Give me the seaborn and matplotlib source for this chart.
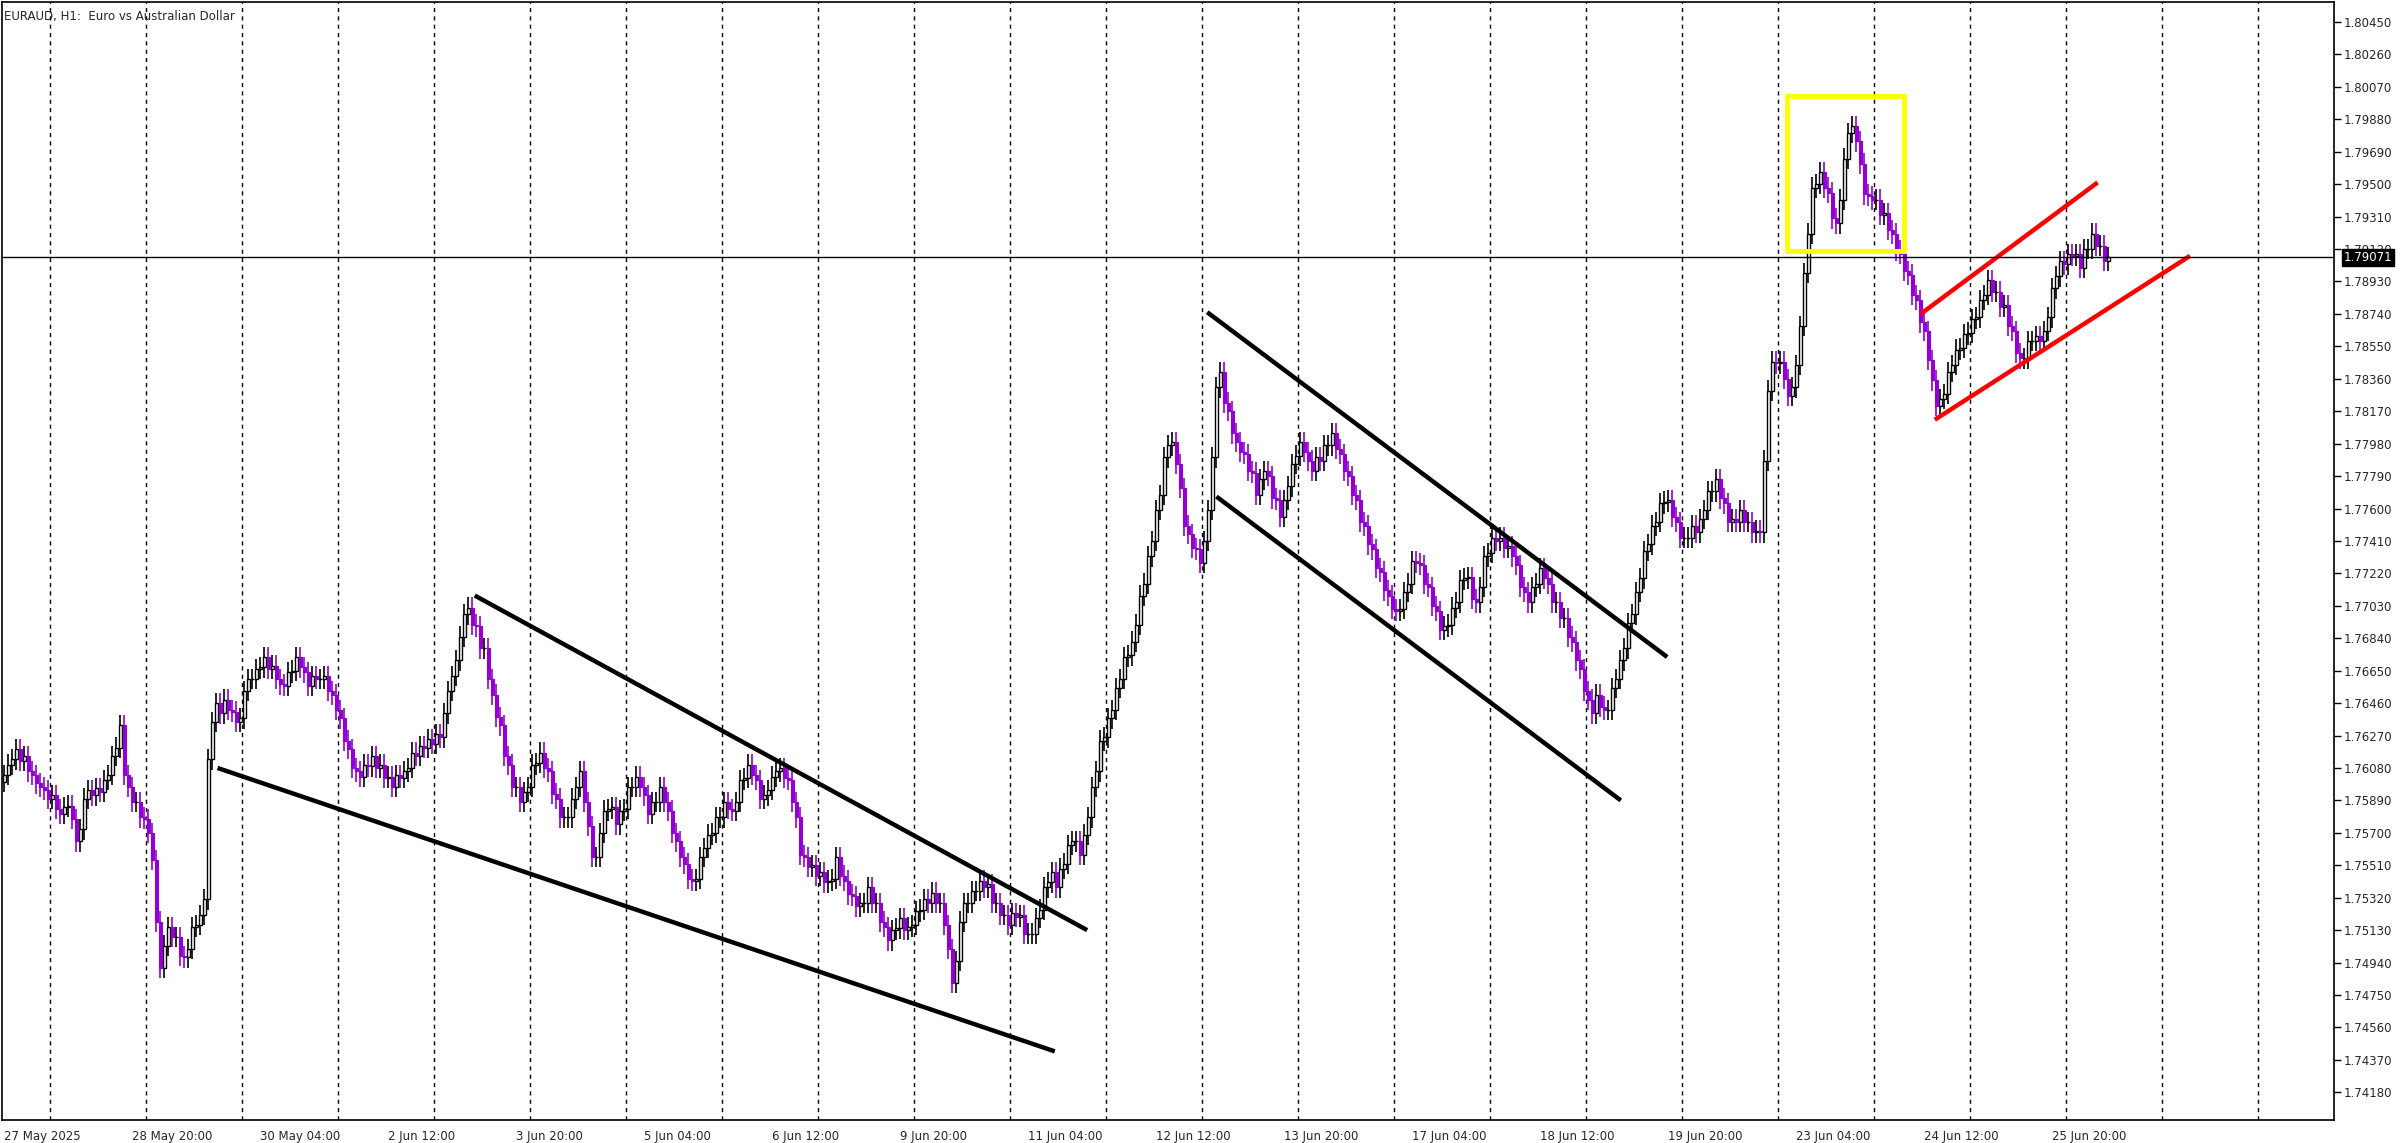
import numpy as np
import pandas as pd
import seaborn as sns
import matplotlib
matplotlib.use("Agg")
import matplotlib.pyplot as plt
from matplotlib.patches import Rectangle

# closes in pips above 1.7000 (price = 1.7 + p/10000), hourly bars from 27 May 2025 12:00
close_pips = [
604,610,613,619,612,615,606,604,599,597,
595,590,592,584,581,585,586,578,565,572,
590,595,592,596,594,601,604,615,620,633,
604,597,588,588,579,578,570,554,518,491,
504,515,509,509,498,497,502,515,516,522,
531,613,635,646,640,648,642,641,635,637,
653,660,660,666,667,673,666,668,660,657,
656,664,665,673,667,664,656,662,660,660,
662,653,651,642,637,624,619,608,606,603,
610,609,615,608,610,602,603,597,604,602,
606,608,617,615,621,620,625,622,628,626,
640,653,662,671,685,698,702,692,691,678,
678,660,651,638,633,615,610,597,597,588,
594,597,610,611,617,608,606,593,590,579,
579,579,590,597,606,588,574,556,556,570,
583,584,585,575,583,584,597,597,603,597,
592,581,588,588,597,588,583,570,565,556,
552,543,542,543,556,561,569,570,579,579,
588,584,583,588,601,602,610,604,601,590,
592,595,603,606,608,602,601,588,579,557,
556,550,551,545,547,541,542,543,556,545,
542,534,533,527,529,529,538,529,529,518,
515,507,513,514,520,513,515,516,524,525,
531,529,535,529,529,516,502,482,495,518,
529,529,536,536,542,538,540,529,529,522,
522,516,523,521,522,511,511,511,520,525,
538,541,547,538,549,552,563,565,565,557,
569,579,597,606,624,626,637,642,655,660,
673,674,682,692,709,716,732,741,759,768,
790,797,799,786,772,750,745,737,736,728,
741,759,790,831,840,822,817,804,799,793,
792,782,781,768,777,782,779,766,765,755,
765,773,786,791,799,793,788,782,790,788,
797,797,804,795,792,782,779,768,765,752,
750,739,736,725,723,712,709,701,700,701,
711,716,729,728,727,716,714,703,700,689,
691,692,702,705,718,719,720,707,705,714,
732,734,743,741,743,737,738,732,727,714,
711,705,714,716,725,719,716,705,705,696,
696,685,682,671,666,653,648,640,651,644,
642,642,655,660,671,678,693,698,711,719,
735,739,750,752,763,764,765,755,752,743,
743,743,750,746,754,759,770,770,777,766,
763,752,754,752,759,752,752,746,747,746,
788,829,846,845,846,836,826,831,844,867,
898,921,948,950,957,948,945,930,927,941,
965,980,984,975,962,944,943,941,941,932,
933,923,921,911,909,899,897,885,882,869,
864,847,835,820,824,827,840,844,853,854,
862,863,871,872,882,885,894,887,887,878,
879,867,864,851,848,848,858,858,861,858,
864,872,889,896,905,903,909,908,909,901,
912,912,921,914,914,905,907.1,
]

tick_bars = [0, 32, 64, 96, 128, 160, 192, 224, 256, 288, 320, 352, 384, 416, 448, 480, 512]
tick_labels = ["27 May 2025", "28 May 20:00", "30 May 04:00", "2 Jun 12:00", "3 Jun 20:00",
               "5 Jun 04:00", "6 Jun 12:00", "9 Jun 20:00", "11 Jun 04:00", "12 Jun 12:00",
               "13 Jun 20:00", "17 Jun 04:00", "18 Jun 12:00", "19 Jun 20:00", "23 Jun 04:00",
               "24 Jun 12:00", "25 Jun 20:00"]
price_ticks = [1.80450 - 0.0019 * k for k in range(34)]
last_price = 1.79071

# trend lines: (bar0, price0, bar1, price1)
black_lines = [(117.6, 1.7709, 270.7, 1.7513),
               (53.3, 1.7608, 262.6, 1.7442),
               (300.7, 1.7875, 415.7, 1.7673),
               (303.0, 1.7767, 404.1, 1.7589)]
red_lines = [(479.1, 1.7874, 523.3, 1.7951),
             (482.6, 1.7812, 546.4, 1.7908)]
yellow_box = (445.7, 1.7911, 474.9, 1.80018)

close = 1.7 + np.array(close_pips) / 10000.0
opens = np.concatenate([[close[0] - 0.0004], close[:-1]])
df = pd.DataFrame({"bar": np.arange(len(close)), "open": opens, "close": close})
wick = 0.0006
df["high"] = df[["open", "close"]].max(axis=1) + wick
df["low"] = df[["open", "close"]].min(axis=1) - wick

sns.set_style("white")
plt.rcParams['font.family'] = ['DejaVu Sans']
fig = plt.figure(figsize=(24, 11.43), dpi=100)
ax = fig.add_axes([2/2400, 23/1143, 2332/2400, 1118/1143])

purple = "#9400D3"
up = df[df.close >= df.open]
dn = df[df.close < df.open]
ax.vlines(up.bar, up.low, up.high, color="black", lw=1.2, zorder=2)
ax.vlines(dn.bar, dn.low, dn.high, color=purple, lw=1.2, zorder=2)
ax.bar(up.bar, up.close - up.open, bottom=up.open, width=0.6, color="white",
       edgecolor="black", linewidth=1.0, zorder=3)
ax.bar(dn.bar, dn.close - dn.open, bottom=dn.open, width=0.6, color=purple,
       edgecolor=purple, linewidth=0.8, zorder=3)

for b in range(12, 584, 24):
    ax.axvline(b - 0.5, color="black", lw=1.0, ls=(0, (3, 3)), zorder=1)

for b0, p0, b1, p1 in black_lines:
    ax.plot([b0, b1], [p0, p1], color="black", lw=3.2, zorder=4, solid_capstyle="butt")
for b0, p0, b1, p1 in red_lines:
    ax.plot([b0, b1], [p0, p1], color="#FF0000", lw=3.2, zorder=4, solid_capstyle="butt")
x0, p0, x1, p1 = yellow_box
ax.add_patch(Rectangle((x0, p0), x1 - x0, p1 - p0, fill=False, edgecolor="#FFFF00", lw=3.5, zorder=5))

ax.axhline(last_price, color="black", lw=1.0, zorder=4)

ax.set_xlim(-0.6, 582.4)
ax.set_ylim(1.74018, 1.80567)
ax.yaxis.tick_right()
ax.set_yticks(price_ticks)
ax.set_yticklabels([f"{p:.5f}" for p in price_ticks], fontsize=8.5)
ax.set_xticks(tick_bars)
ax.set_xticklabels(tick_labels, fontsize=8.5, ha="left")
ax.tick_params(axis="both", direction="out", length=5, width=1, color="black", pad=2)
for s in ax.spines.values():
    s.set_color("black"); s.set_linewidth(1.2)

ax.text(2 / 2332, 0.993, "EURAUD, H1:  Euro vs Australian Dollar", transform=ax.transAxes,
        fontsize=8.5, va="top", ha="left")
ax.text(1.004, last_price, f"{last_price:.5f}", transform=ax.get_yaxis_transform(),
        fontsize=8.5, va="center", ha="left", color="white",
        bbox=dict(boxstyle="square,pad=0.15", fc="black", ec="black"), zorder=10, clip_on=False)

fig.savefig("out.png", dpi=100, facecolor="white")
